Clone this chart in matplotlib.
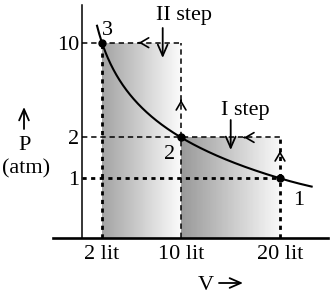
import numpy as np
import matplotlib
matplotlib.use('Agg')
from matplotlib import pyplot as plt

# gas states 1 -> 2 -> 3 (isothermal, two step compression)
state_names = ['1', '2', '3']
V_state = [20, 10, 2]     # lit
P_state = [1, 2, 10]      # atm
k = V_state[0] * P_state[0]   # PV = const

x_ticks = [2, 10, 20]
x_ticklabels = ['2 lit', '10 lit', '20 lit']
y_ticks = [1, 2, 10]
y_ticklabels = ['1', '2', '10']

W, H = 336, 295
plt.rcParams['font.family'] = ['Liberation Serif', 'DejaVu Serif']
FS = 16

# schematic axes: V linear, P linear below 1 atm and log above
x0, xs = 82.2, 9.89            # pixel of V=0, pixels per lit
row0, dec = 238.3, 135.6       # row of P=0, pixels per decade
lin_adj = 60 / dec

def p_at(row):
    t = (row0 - row) / dec
    if t < lin_adj:
        return t / lin_adj
    return 10 ** (t - lin_adj)

def fx(px):
    return px / W

def fy(row):
    return 1 - row / H

fig = plt.figure(figsize=(W / 100, H / 100), dpi=100)
ax = fig.add_axes([0, 0, 1, 1])
ax.set_facecolor('none')
ax.set_yscale('symlog', linthresh=1, linscale=lin_adj * (1 - 0.1))
ax.set_xlim(-x0 / xs, (W - x0) / xs)
ax.set_ylim(p_at(H), p_at(0))

for s in ['top', 'right']:
    ax.spines[s].set_visible(False)
ax.spines['left'].set_position(('data', 0))
ax.spines['bottom'].set_position(('data', 0))
ax.spines['left'].set_bounds(0, p_at(5))
ax.spines['bottom'].set_bounds((53 - x0) / xs, (328 - x0) / xs)
ax.spines['left'].set_linewidth(1.1)
ax.spines['bottom'].set_linewidth(1.9)

ax.set_xticks(x_ticks, x_ticklabels)
ax.set_yticks(y_ticks, y_ticklabels)
ax.minorticks_off()
ax.tick_params(axis='x', length=0, pad=5, labelsize=FS)
ax.tick_params(axis='y', length=0, pad=2, labelsize=FS)

# shaded work areas (gradient)
xl = np.linspace(V_state[2], V_state[1], 81)
ax.pcolormesh(xl, [0, P_state[2]], np.linspace(0.64, 0.98, 80)[None, :],
              cmap='gray', vmin=0, vmax=1, shading='flat', zorder=1)
xr = np.linspace(V_state[1], V_state[0], 81)
ax.pcolormesh(xr, [0, P_state[1]], np.linspace(0.60, 0.97, 80)[None, :],
              cmap='gray', vmin=0, vmax=1, shading='flat', zorder=1)

# isotherm
vc = np.linspace(1.5, 23.2, 300)
ax.plot(vc, k / vc, color='k', lw=1.5, zorder=4)

thin = dict(color='k', lw=1.1, dashes=(3.5, 2.5), zorder=3)
thick = dict(color='k', lw=2.0, dashes=(1.5, 1.6), zorder=3)
ax.plot([0, V_state[1]], [P_state[2]] * 2, **thin)
ax.plot([V_state[1]] * 2, [0, P_state[2]], **thin)
ax.plot([0, V_state[0]], [P_state[1]] * 2, **thin)
ax.plot([V_state[2]] * 2, [0, P_state[2]], **thick)
ax.plot([V_state[0]] * 2, [0, P_state[1]], **thick)
ax.plot([0, V_state[0]], [P_state[0]] * 2, **thick)

ax.plot(V_state, P_state, 'o', color='k', ms=5, zorder=5)

# direction marks on the dashed paths
head = dict(arrowstyle='->, head_length=0.6, head_width=0.35', color='k',
            lw=1.2, shrinkA=0, shrinkB=0, mutation_scale=10)
chev = [((138.7 - x0) / xs, P_state[2], 0.05, 0),
        (V_state[1], p_at(100), 0, -0.05),
        ((244 - x0) / xs, P_state[1], 0.05, 0),
        (V_state[0], p_at(151), 0, -0.03)]
for v, p, dv, dp in chev:
    ax.annotate('', xy=(v, p), xytext=(v + dv, p + dp), arrowprops=head, zorder=6)

# step arrows and the axis-name arrows (figure pixels)
step = dict(arrowstyle='->, head_length=0.8, head_width=0.35', color='k',
            lw=1.3, shrinkA=0, shrinkB=0, mutation_scale=10)
arrows = [((162.7, 28), (162.7, 58)),
          ((230.7, 120), (230.7, 150)),
          ((24, 129), (24, 107)),
          ((219, 283), (243, 283))]
for (xa, ra), (xb, rb) in arrows:
    ax.annotate('', xy=(xb, H - rb), xycoords='figure pixels',
                xytext=(xa, H - ra), textcoords='figure pixels', arrowprops=step)

fig.text(fx(184), fy(20), 'II step', ha='center', va='baseline', fontsize=FS)
fig.text(fx(245), fy(115), 'I step', ha='center', va='baseline', fontsize=FS)

# state labels
lab_pos = [(298.5, 205), (170, 159), (107.5, 35)]
for name, (px, row) in zip(state_names, lab_pos):
    fig.text(fx(px), fy(row), name, ha='center', va='baseline', fontsize=FS)

fig.text(fx(25), fy(150), 'P', ha='center', va='baseline', fontsize=FS)
fig.text(fx(26), fy(169), '(atm)', ha='center', va='center', fontsize=FS)
fig.text(fx(206), fy(290), 'V', ha='center', va='baseline', fontsize=FS)

fig.savefig('out.png', dpi=100)
